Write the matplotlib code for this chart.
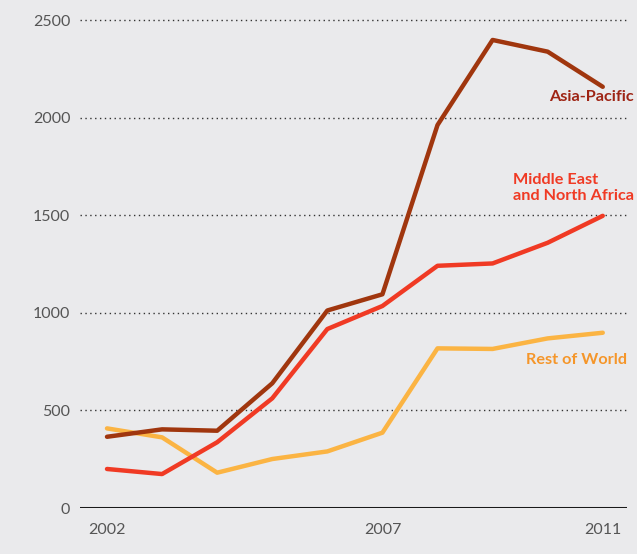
import numpy as np
import matplotlib.pyplot as plt

years = [2002, 2003, 2004, 2005, 2006, 2007, 2008, 2009, 2010, 2011]
asia_pacific = [365, 403, 396, 639, 1012, 1095, 1962, 2398, 2338, 2158]
mena = [200, 174, 337, 562, 917, 1035, 1241, 1253, 1359, 1497]
rest_of_world = [408, 362, 181, 251, 290, 386, 818, 815, 869, 898]

yticks = [0, 500, 1000, 1500, 2000, 2500]
xticks = [2002, 2007, 2011]

bg = '#eaeaec'
plt.rcParams['font.family'] = ['Lato', 'DejaVu Sans']

fig = plt.figure(figsize=(6.37, 5.54), dpi=100, facecolor=bg)
ax = fig.add_axes([0.1256, 0.083, 0.8587, 0.909])
ax.set_facecolor(bg)

ax.plot(years, asia_pacific, color='#a0360e', lw=3.2, solid_capstyle='round', zorder=3)
ax.plot(years, mena, color='#f03a24', lw=3.2, solid_capstyle='round', zorder=3)
ax.plot(years, rest_of_world, color='#fbb443', lw=3.2, solid_capstyle='round', zorder=2)

for y in yticks[1:]:
    ax.axhline(y, color='#333333', lw=1.0, ls=(0, (1, 2.5)), zorder=1)
ax.axhline(0, color='#1a1a1a', lw=2.2, zorder=4)

ax.set_xlim(2001.51, 2011.44)
ax.set_ylim(0, 2580)
ax.set_xticks(xticks)
ax.set_yticks(yticks)
ax.tick_params(length=0, labelsize=11.5, colors='#555555', pad=7)
ax.tick_params(axis='x', pad=11)
for s in ax.spines.values():
    s.set_visible(False)

ax.text(2011.56, 2105, 'Asia-Pacific', color='#9e2414', fontsize=11.7,
        fontweight='bold', ha='right', va='center', clip_on=False)
ax.text(2011.56, 1639, 'Middle East\nand North Africa', color='#f03a24',
        fontsize=11.7, fontweight='bold', ha='right', va='center',
        multialignment='left', clip_on=False, linespacing=1.25)
ax.text(2011.44, 758, 'Rest of World', color='#f5962a', fontsize=11.7,
        fontweight='bold', ha='right', va='center', clip_on=False)

fig.savefig('out.png', dpi=100, facecolor=bg)
